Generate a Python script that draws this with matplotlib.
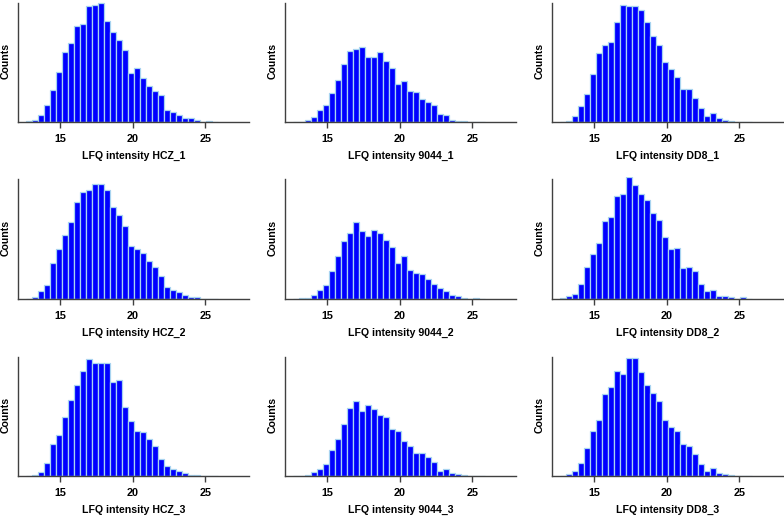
import numpy as np
import matplotlib
matplotlib.use("Agg")
import matplotlib.pyplot as plt

plt.rcParams['font.family'] = ['Liberation Sans', 'DejaVu Sans']
plt.rcParams['font.weight'] = 'bold'

# bins shared by all samples
bin_start = 12.64
bin_width = 0.413
n_bins = 32

samples = ['HCZ_1', '9044_1', 'DD8_1',
           'HCZ_2', '9044_2', 'DD8_2',
           'HCZ_3', '9044_3', 'DD8_3']

# counts per bin
hcz_1 = [2, 7, 21, 51, 96, 151, 211, 236, 289, 294, 348, 351, 358, 303, 270, 247,
         216, 148, 163, 133, 108, 94, 80, 36, 29, 20, 11, 11, 6, 0, 2, 0]
s9044_1 = [0, 1, 7, 14, 36, 51, 88, 125, 173, 214, 219, 225, 195, 195, 210, 184,
           163, 113, 122, 92, 89, 69, 59, 51, 25, 21, 7, 3, 3, 1, 0, 1]
dd8_1 = [1, 4, 19, 48, 85, 144, 208, 230, 240, 300, 351, 348, 348, 337, 300, 258,
         230, 179, 158, 136, 100, 100, 73, 43, 18, 26, 11, 7, 4, 1, 1, 0]
hcz_2 = [0, 6, 22, 41, 107, 148, 192, 229, 289, 321, 326, 344, 344, 326, 275, 251,
         219, 157, 148, 137, 112, 96, 69, 36, 27, 19, 12, 6, 6, 0, 0, 0]
s9044_2 = [0, 1, 3, 10, 25, 40, 82, 129, 174, 196, 229, 203, 189, 207, 196, 176,
           154, 107, 129, 85, 78, 74, 59, 44, 32, 23, 10, 7, 3, 0, 1, 0]
dd8_2 = [1, 7, 14, 45, 96, 134, 167, 233, 244, 307, 314, 366, 341, 314, 295, 258,
         235, 184, 149, 151, 91, 96, 82, 44, 22, 27, 9, 7, 4, 0, 4, 0]
hcz_3 = [0, 3, 11, 40, 97, 122, 177, 229, 274, 314, 351, 340, 340, 340, 281, 289,
         207, 166, 136, 131, 111, 89, 51, 29, 22, 14, 8, 4, 2, 0, 0, 0]
s9044_3 = [0, 1, 4, 12, 20, 35, 77, 112, 157, 205, 224, 194, 212, 202, 184, 176,
           142, 134, 105, 90, 70, 70, 57, 43, 16, 20, 8, 5, 3, 1, 0, 0]
dd8_3 = [1, 6, 14, 40, 84, 136, 168, 246, 266, 314, 306, 354, 354, 313, 274, 250,
         225, 168, 147, 136, 96, 91, 66, 35, 16, 24, 8, 5, 3, 1, 0, 0]

all_counts = [hcz_1, s9044_1, dd8_1, hcz_2, s9044_2, dd8_2, hcz_3, s9044_3, dd8_3]
xticks = [15, 20, 25]

edges = bin_start + bin_width * np.arange(n_bins + 1)
centers = (edges[:-1] + edges[1:]) / 2

W, H = 784, 520
fig = plt.figure(figsize=(W / 100, H / 100), dpi=100)

# layout in pixels
col_left = [18, 285, 552]
row_base = [122, 298.7, 476]
ax_w, ax_h = 231, 122

for k, (name, counts) in enumerate(zip(samples, all_counts)):
    r, c = divmod(k, 3)
    ax = fig.add_axes([col_left[c] / W, (H - row_base[r]) / H, ax_w / W, ax_h / H])
    ax.hist(centers, bins=edges, weights=counts, color='#0000ff',
            edgecolor='#a8d4f0', linewidth=0.9)
    ax.set_xlim(12.1, 28)
    ax.set_ylim(0, 366)
    ax.set_xticks(xticks)
    ax.set_yticks([])
    for s in ['top', 'right']:
        ax.spines[s].set_visible(False)
    for s in ['left', 'bottom']:
        ax.spines[s].set_color('#404040')
        ax.spines[s].set_linewidth(1.0)
    ax.spines['left'].set_bounds(0, 358)
    ax.tick_params(axis='x', length=4, width=1, color='#404040', pad=4.5,
                   labelsize=7.8)
    ax.set_xlabel(f'LFQ intensity {name}', fontsize=7.6, fontweight='bold',
                  labelpad=5)
    ax.set_ylabel('Counts', fontsize=7.6, fontweight='bold', labelpad=5)

fig.savefig('out.png', dpi=100)
